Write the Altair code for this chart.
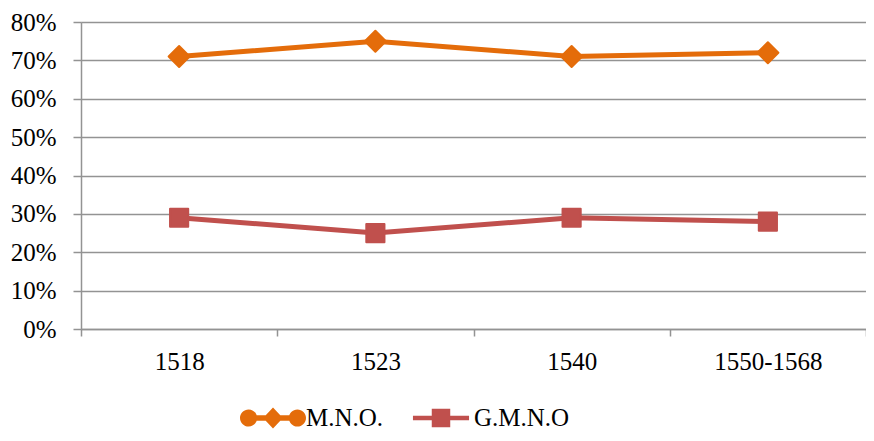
import altair as alt
import pandas as pd

years = ["1518", "1523", "1540", "1550-1568"]
series_names = ["M.N.O.", "G.M.N.O"]
mno = [0.71, 0.75, 0.71, 0.72]
gmno = [0.29, 0.25, 0.29, 0.28]
colors = ["#E46C0A", "#C0504D"]
y_ticks = [0.0, 0.1, 0.2, 0.3, 0.4, 0.5, 0.6, 0.7, 0.8]

rows = []
for name, vals in zip(series_names, [mno, gmno]):
    for yr, v in zip(years, vals):
        rows.append({"year": yr, "series": name, "v": v})
df = pd.DataFrame(rows)

FONT = "Liberation Serif"
GRID = "#939393"
FS = 25

# legend symbols: line with markers (unit box -1..1)
leg_orange = (
    "M-0.75,-0.08 L0.75,-0.08 L0.75,0.08 L-0.75,0.08 Z "
    "M-1,0 A0.26,0.26 0 1,1 -0.48,0 A0.26,0.26 0 1,1 -1,0 Z "
    "M0.48,0 A0.26,0.26 0 1,1 1,0 A0.26,0.26 0 1,1 0.48,0 Z "
    "M0,-0.32 L0.3,0 L0,0.32 L-0.3,0 Z"
)
leg_red = (
    "M-0.85,-0.07 L0.85,-0.07 L0.85,0.07 L-0.85,0.07 Z "
    "M-0.28,-0.28 L0.28,-0.28 L0.28,0.28 L-0.28,0.28 Z"
)

x_enc = alt.X(
    "year:N",
    sort=years,
    title=None,
    scale=alt.Scale(type="band", paddingInner=0, paddingOuter=0),
    axis=alt.Axis(
        tickBand="extent",
        labelAngle=0,
        labelFont=FONT,
        labelFontSize=FS,
        labelColor="black",
        labelPadding=13,
        tickSize=7,
        tickColor=GRID,
        tickWidth=1.5,
        domainColor=GRID,
        domainWidth=1.5,
        grid=False,
    ),
)
y_enc = alt.Y(
    "v:Q",
    title=None,
    scale=alt.Scale(domain=[0, 0.8], nice=False),
    axis=alt.Axis(
        values=y_ticks,
        format=".0%",
        labelFont=FONT,
        labelFontSize=FS,
        labelColor="black",
        labelPadding=17,
        tickSize=8,
        tickColor=GRID,
        tickWidth=1.5,
        domainColor=GRID,
        domainWidth=1.5,
        gridColor=GRID,
        gridWidth=1.5,
    ),
)
color_enc = alt.Color(
    "series:N",
    scale=alt.Scale(domain=series_names, range=colors),
    legend=alt.Legend(
        title=None,
        orient="none",
        direction="horizontal",
        legendX=159,
        legendY=363,
        labelFont=FONT,
        labelFontSize=FS,
        labelColor="black",
        labelOffset=0,
        columnPadding=24,
        symbolSize=4356,
        symbolStrokeWidth=0,
        symbolOpacity=1,
    ),
)

base = alt.Chart(df)

lines = base.mark_line(strokeWidth=5, opacity=1).encode(x=x_enc, y=y_enc, color=color_enc)

pts_o = base.transform_filter(alt.datum.series == "M.N.O.").mark_point(
    shape="diamond", filled=True, size=441, opacity=1,
    fill=colors[0], stroke=colors[0], strokeWidth=2, strokeJoin="round"
).encode(x=x_enc, y=y_enc)

pts_r = base.transform_filter(alt.datum.series == "G.M.N.O").mark_point(
    shape="square", filled=True, size=330, opacity=1,
    fill=colors[1], stroke=colors[1], strokeWidth=2, strokeJoin="round"
).encode(x=x_enc, y=y_enc)

legend_layer = base.transform_filter(alt.datum.v < 0).mark_point(filled=True, opacity=1).encode(
    x=x_enc,
    y=y_enc,
    color=color_enc,
    shape=alt.Shape(
        "series:N",
        scale=alt.Scale(domain=series_names, range=[leg_orange, leg_red]),
        legend=alt.Legend(title=None),
    ),
)

chart = (
    alt.layer(lines, pts_o, pts_r, legend_layer)
    .properties(
        width=785,
        height=307,
        autosize=alt.AutoSizeParams(type="none"),
        padding={"left": 73, "top": 14, "right": 0, "bottom": 103},
    )
    .configure_view(strokeWidth=0)
    .configure(background="white")
)

chart.save("out.html", embed_options={"renderer": "svg", "actions": False})
